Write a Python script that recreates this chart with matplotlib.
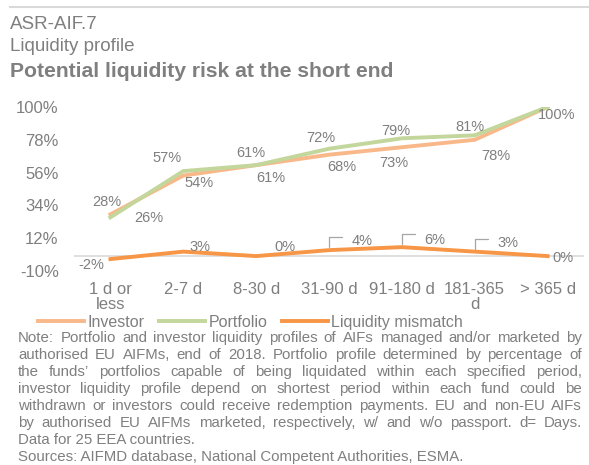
import matplotlib
matplotlib.use("Agg")
import matplotlib.pyplot as plt
from matplotlib.lines import Line2D
import numpy as np

# data
categories = ["1 d or\nless", "2-7 d", "8-30 d", "31-90 d", "91-180 d", "181-365\nd", "> 365 d"]
investor = [28, 54, 61, 68, 73, 78, 100]
portfolio = [26, 57, 61, 72, 79, 81, 100]
mismatch = [-2, 3, 0, 4, 6, 3, 0]
y_ticks = [-10, 12, 34, 56, 78, 100]

note_lines = [
    "Note: Portfolio and investor liquidity profiles of AIFs managed and/or marketed by",
    "authorised EU AIFMs, end of 2018. Portfolio profile determined by percentage of",
    "the funds\u2019 portfolios capable of being liquidated within each specified period,",
    "investor liquidity profile depend on shortest period within each fund could be",
    "withdrawn or investors could receive redemption payments. EU and non-EU AIFs",
    "by authorised EU AIFMs marketed, respectively, w/ and w/o passport. d= Days.",
    "Data for 25 EEA countries.",
]
source_line = "Sources: AIFMD database, National Competent Authorities, ESMA."

GREY = "#7F7F7F"
C_INV = "#F8B88A"
C_PORT = "#C3D69B"
C_MIS = "#F79646"

plt.rcParams["font.family"] = ["Liberation Sans", "DejaVu Sans"]

W, H = 589, 465
fig = plt.figure(figsize=(W / 100, H / 100), dpi=100)


def fx(px):
    return px / W


def fy(py):
    return 1 - py / H


# header
fig.add_artist(Line2D([fx(10), 1], [fy(7), fy(7)], color="#D9D9D9", lw=1.5))
fig.text(fx(10), fy(29), "ASR-AIF.7", fontsize=13.5, color=GREY, va="baseline")
fig.text(fx(10), fy(51), "Liquidity profile", fontsize=13.5, color=GREY, va="baseline")
fig.text(fx(10), fy(77), "Potential liquidity risk at the short end", fontsize=15.2,
         fontweight="bold", color=GREY, va="baseline")

# chart
ax = fig.add_axes([fx(74), fy(271), fx(584) - fx(74), fy(107) - fy(271)])
x = np.arange(len(categories))
ax.axhline(0, color="#D9D9D9", lw=1.2, zorder=1)
l_inv, = ax.plot(x, investor, color=C_INV, lw=2.8, label="Investor", zorder=3)
l_port, = ax.plot(x, portfolio, color=C_PORT, lw=2.8, label="Portfolio", zorder=4)
l_mis, = ax.plot(x, mismatch, color=C_MIS, lw=2.8, label="Liquidity mismatch", zorder=4)

ax.set_xlim(-0.5, len(categories) - 0.5)
ax.set_ylim(-10, 100)
ax.set_yticks(y_ticks, [f"{t}%" for t in y_ticks])
ax.set_xticks(x, categories)
ax.tick_params(axis="y", length=0, pad=11, labelsize=12, labelcolor=GREY)
ax.tick_params(axis="x", length=0, pad=8, labelsize=12, labelcolor=GREY)
for lab in ax.get_xticklabels():
    lab.set_linespacing(1.0)
for s in ax.spines.values():
    s.set_visible(False)
ax.patch.set_alpha(0)

# data labels (pixel offsets from the points)
inv_off = [(-4, 12), (16, -7), (15, -13), (13, -12), (-8, -16), (21, -16), None]
port_off = [(38, -1), (-16, 13), (-5, 12), (-8, 11), (-6, 7), (-5, 8), (9, -8)]
mis_off = [(-19, -6), (17, 5), (29, 9), (33, 9), (33, 7), (33, 9), (15, -2)]

for i in x:
    if inv_off[i] is not None:
        ax.annotate(f"{investor[i]}%", (i, investor[i]), xytext=inv_off[i],
                    textcoords="offset pixels", ha="center", va="center",
                    fontsize=10.5, color=GREY, zorder=5)
    ax.annotate(f"{portfolio[i]}%", (i, portfolio[i]), xytext=port_off[i],
                textcoords="offset pixels", ha="center", va="center",
                fontsize=10.5, color=GREY, zorder=5)
    ax.annotate(f"{mismatch[i]}%", (i, mismatch[i]), xytext=mis_off[i],
                textcoords="offset pixels", ha="center", va="center",
                fontsize=10.5, color=GREY, zorder=5)

# leader lines for the shifted mismatch labels
for i in [3, 4, 5]:
    ax.annotate("", xy=(i, mismatch[i]), xytext=(13, 13), textcoords="offset pixels",
                arrowprops=dict(arrowstyle="-", color="#A6A6A6", lw=0.9,
                                connectionstyle="angle,angleA=0,angleB=90,rad=0",
                                shrinkA=0, shrinkB=2))

# legend
fig.legend(handles=[l_inv, l_port, l_mis], loc="center left",
           bbox_to_anchor=(fx(30), fy(322)), ncol=3, frameon=False,
           fontsize=11.5, handlelength=2.9, handletextpad=0.2,
           columnspacing=0.9, borderpad=0, labelcolor=GREY)

# justified note text
renderer = fig.canvas.get_renderer()
left, right = 18, 582
NOTE_FS = 10.8
for k, line in enumerate(note_lines):
    ypx = 338 + 17 * k
    if k < len(note_lines) - 1:
        words = line.split(" ")
        texts = [fig.text(0, fy(ypx), w, fontsize=NOTE_FS, color=GREY, va="center")
                 for w in words]
        widths = [t.get_window_extent(renderer).width for t in texts]
        gap = (right - left - sum(widths)) / (len(words) - 1)
        xcur = left
        for t, w in zip(texts, widths):
            t.set_x(fx(xcur))
            xcur += w + gap
    else:
        fig.text(fx(left), fy(ypx), line, fontsize=NOTE_FS, color=GREY, va="center")
fig.text(fx(left), fy(338 + 17 * len(note_lines)), source_line, fontsize=NOTE_FS,
         color=GREY, va="center")

fig.savefig("out.png", dpi=100)
